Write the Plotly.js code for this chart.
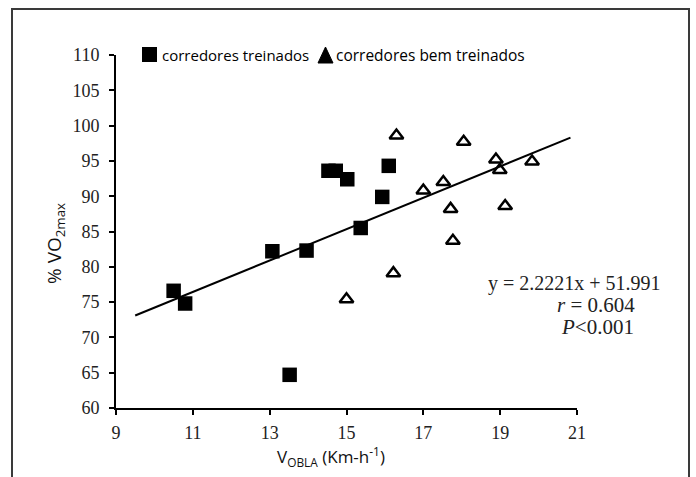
<!DOCTYPE html>
<html>
<head>
<meta charset="utf-8">
<script src="https://cdn.plot.ly/plotly-3.0.1.min.js"></script>
<style>
html,body{margin:0;padding:0;background:#fff;}
#chart{width:696px;height:477px;}
</style>
</head>
<body>
<div id="chart"></div>
<script>
// Data
const treinadosX = [10.50, 10.80, 13.07, 13.96, 13.52, 14.53, 14.72, 15.02, 16.10, 15.93, 15.37];
const treinadosY = [76.6, 74.8, 82.2, 82.3, 64.7, 93.6, 93.6, 92.4, 94.3, 89.9, 85.5];

const bemTreinadosX = [16.30, 18.05, 18.89, 18.99, 19.83, 17.52, 17.00, 17.71, 19.13, 17.77, 15.00, 16.22];
const bemTreinadosY = [98.6, 97.7, 95.2, 93.7, 94.9, 92.0, 90.8, 88.2, 88.6, 83.7, 75.4, 79.1];

const trendX = [9.5, 20.83];
const trendY = [73.1, 98.3];

const xTicks = [9, 11, 13, 15, 17, 19, 21];
const yTicks = [60, 65, 70, 75, 80, 85, 90, 95, 100, 105, 110];

const legendLabels = ['corredores treinados', 'corredores bem treinados'];
const equationLines = ['y = 2.2221x + 51.991', '<i>r</i> = 0.604', '<i>P</i>&lt;0.001'];

// Layout geometry (pixels)
const W = 696, H = 477;
const M = {l: 116, r: 119, t: 55, b: 69};
const pw = W - M.l - M.r, ph = H - M.t - M.b;
const px = x => (x - M.l) / pw;
const py = y => (H - M.b - y) / ph;

const serif = '"Liberation Serif", "Times New Roman", serif';
const sans = '"Open Sans", "Noto Sans", sans-serif';

const traces = [
  {
    x: trendX, y: trendY, mode: 'lines', type: 'scatter',
    line: {color: '#000', width: 2}, hoverinfo: 'skip', showlegend: false
  },
  {
    x: treinadosX, y: treinadosY, mode: 'markers', type: 'scatter',
    marker: {symbol: 'square', size: 14.5, color: '#000'},
    name: legendLabels[0], showlegend: false
  },
  {
    x: bemTreinadosX, y: bemTreinadosY, mode: 'markers', type: 'scatter',
    marker: {symbol: 'triangle-up-open', size: 12, color: '#000', line: {width: 2.5, color: '#000'}},
    name: legendLabels[1], showlegend: false
  }
];

const annotations = [
  {xref: 'paper', yref: 'paper', x: px(160), y: py(55), xanchor: 'left', yanchor: 'middle',
   text: legendLabels[0], showarrow: false, font: {family: sans, size: 15, color: '#000'}},
  {xref: 'paper', yref: 'paper', x: px(334), y: py(55), xanchor: 'left', yanchor: 'middle',
   text: legendLabels[1], showarrow: false, font: {family: sans, size: 15.5, color: '#000'}},
  {xref: 'paper', yref: 'paper', x: px(574), y: py(283), xanchor: 'center', yanchor: 'middle',
   text: equationLines[0], showarrow: false, font: {family: serif, size: 20, color: '#222'}},
  {xref: 'paper', yref: 'paper', x: px(596), y: py(305), xanchor: 'center', yanchor: 'middle',
   text: equationLines[1], showarrow: false, font: {family: serif, size: 21, color: '#222'}},
  {xref: 'paper', yref: 'paper', x: px(597), y: py(327), xanchor: 'center', yanchor: 'middle',
   text: equationLines[2], showarrow: false, font: {family: serif, size: 21, color: '#222'}},
  {xref: 'paper', yref: 'paper', x: px(331), y: py(457), xanchor: 'center', yanchor: 'middle',
   text: 'V<sub>OBLA</sub> (Km-h<sup>-1</sup>)', showarrow: false, font: {family: sans, size: 17, color: '#111'}},
  {xref: 'paper', yref: 'paper', x: px(55), y: py(243), xanchor: 'center', yanchor: 'middle', textangle: -90,
   text: '% VO<sub>2max</sub>', showarrow: false, font: {family: sans, size: 19, color: '#111'}}
];

const shapes = [
  // figure frame
  {type: 'rect', xref: 'paper', yref: 'paper', x0: px(12), x1: px(689), y0: py(490), y1: py(9),
   line: {color: '#3a3a3a', width: 2}, fillcolor: 'rgba(0,0,0,0)'},
  // legend symbols
  {type: 'rect', xref: 'paper', yref: 'paper', x0: px(142), x1: px(157), y0: py(62), y1: py(47),
   line: {width: 0}, fillcolor: '#000'},
  {type: 'path', xref: 'paper', yref: 'paper',
   path: 'M ' + px(318) + ' ' + py(63) + ' L ' + px(333) + ' ' + py(63) + ' L ' + px(325.5) + ' ' + py(47) + ' Z',
   line: {width: 1, color: '#000'}, fillcolor: '#000'}
];

const axisCommon = {
  showgrid: false, zeroline: false, showline: true, linecolor: '#000', linewidth: 2,
  ticks: 'outside', ticklen: 5, tickwidth: 2, tickcolor: '#000'
};

const layout = {
  width: W, height: H,
  margin: M,
  font: {family: serif, size: 18, color: '#222'},
  paper_bgcolor: '#fff', plot_bgcolor: '#fff',
  showlegend: false,
  xaxis: Object.assign({}, axisCommon, {
    range: [9, 21], tickmode: 'array', tickvals: xTicks, ticktext: xTicks.map(String),
    tickfont: {family: serif, size: 18, color: '#222'},
    ticklabelstandoff: 2
  }),
  yaxis: Object.assign({}, axisCommon, {
    range: [60, 110], tickmode: 'array', tickvals: yTicks, ticktext: yTicks.map(String),
    tickfont: {family: serif, size: 18, color: '#222'},
    ticklabelstandoff: 6
  }),
  annotations: annotations,
  shapes: shapes
};

Plotly.newPlot('chart', traces, layout, {displayModeBar: false, staticPlot: true});
</script>
</body>
</html>
